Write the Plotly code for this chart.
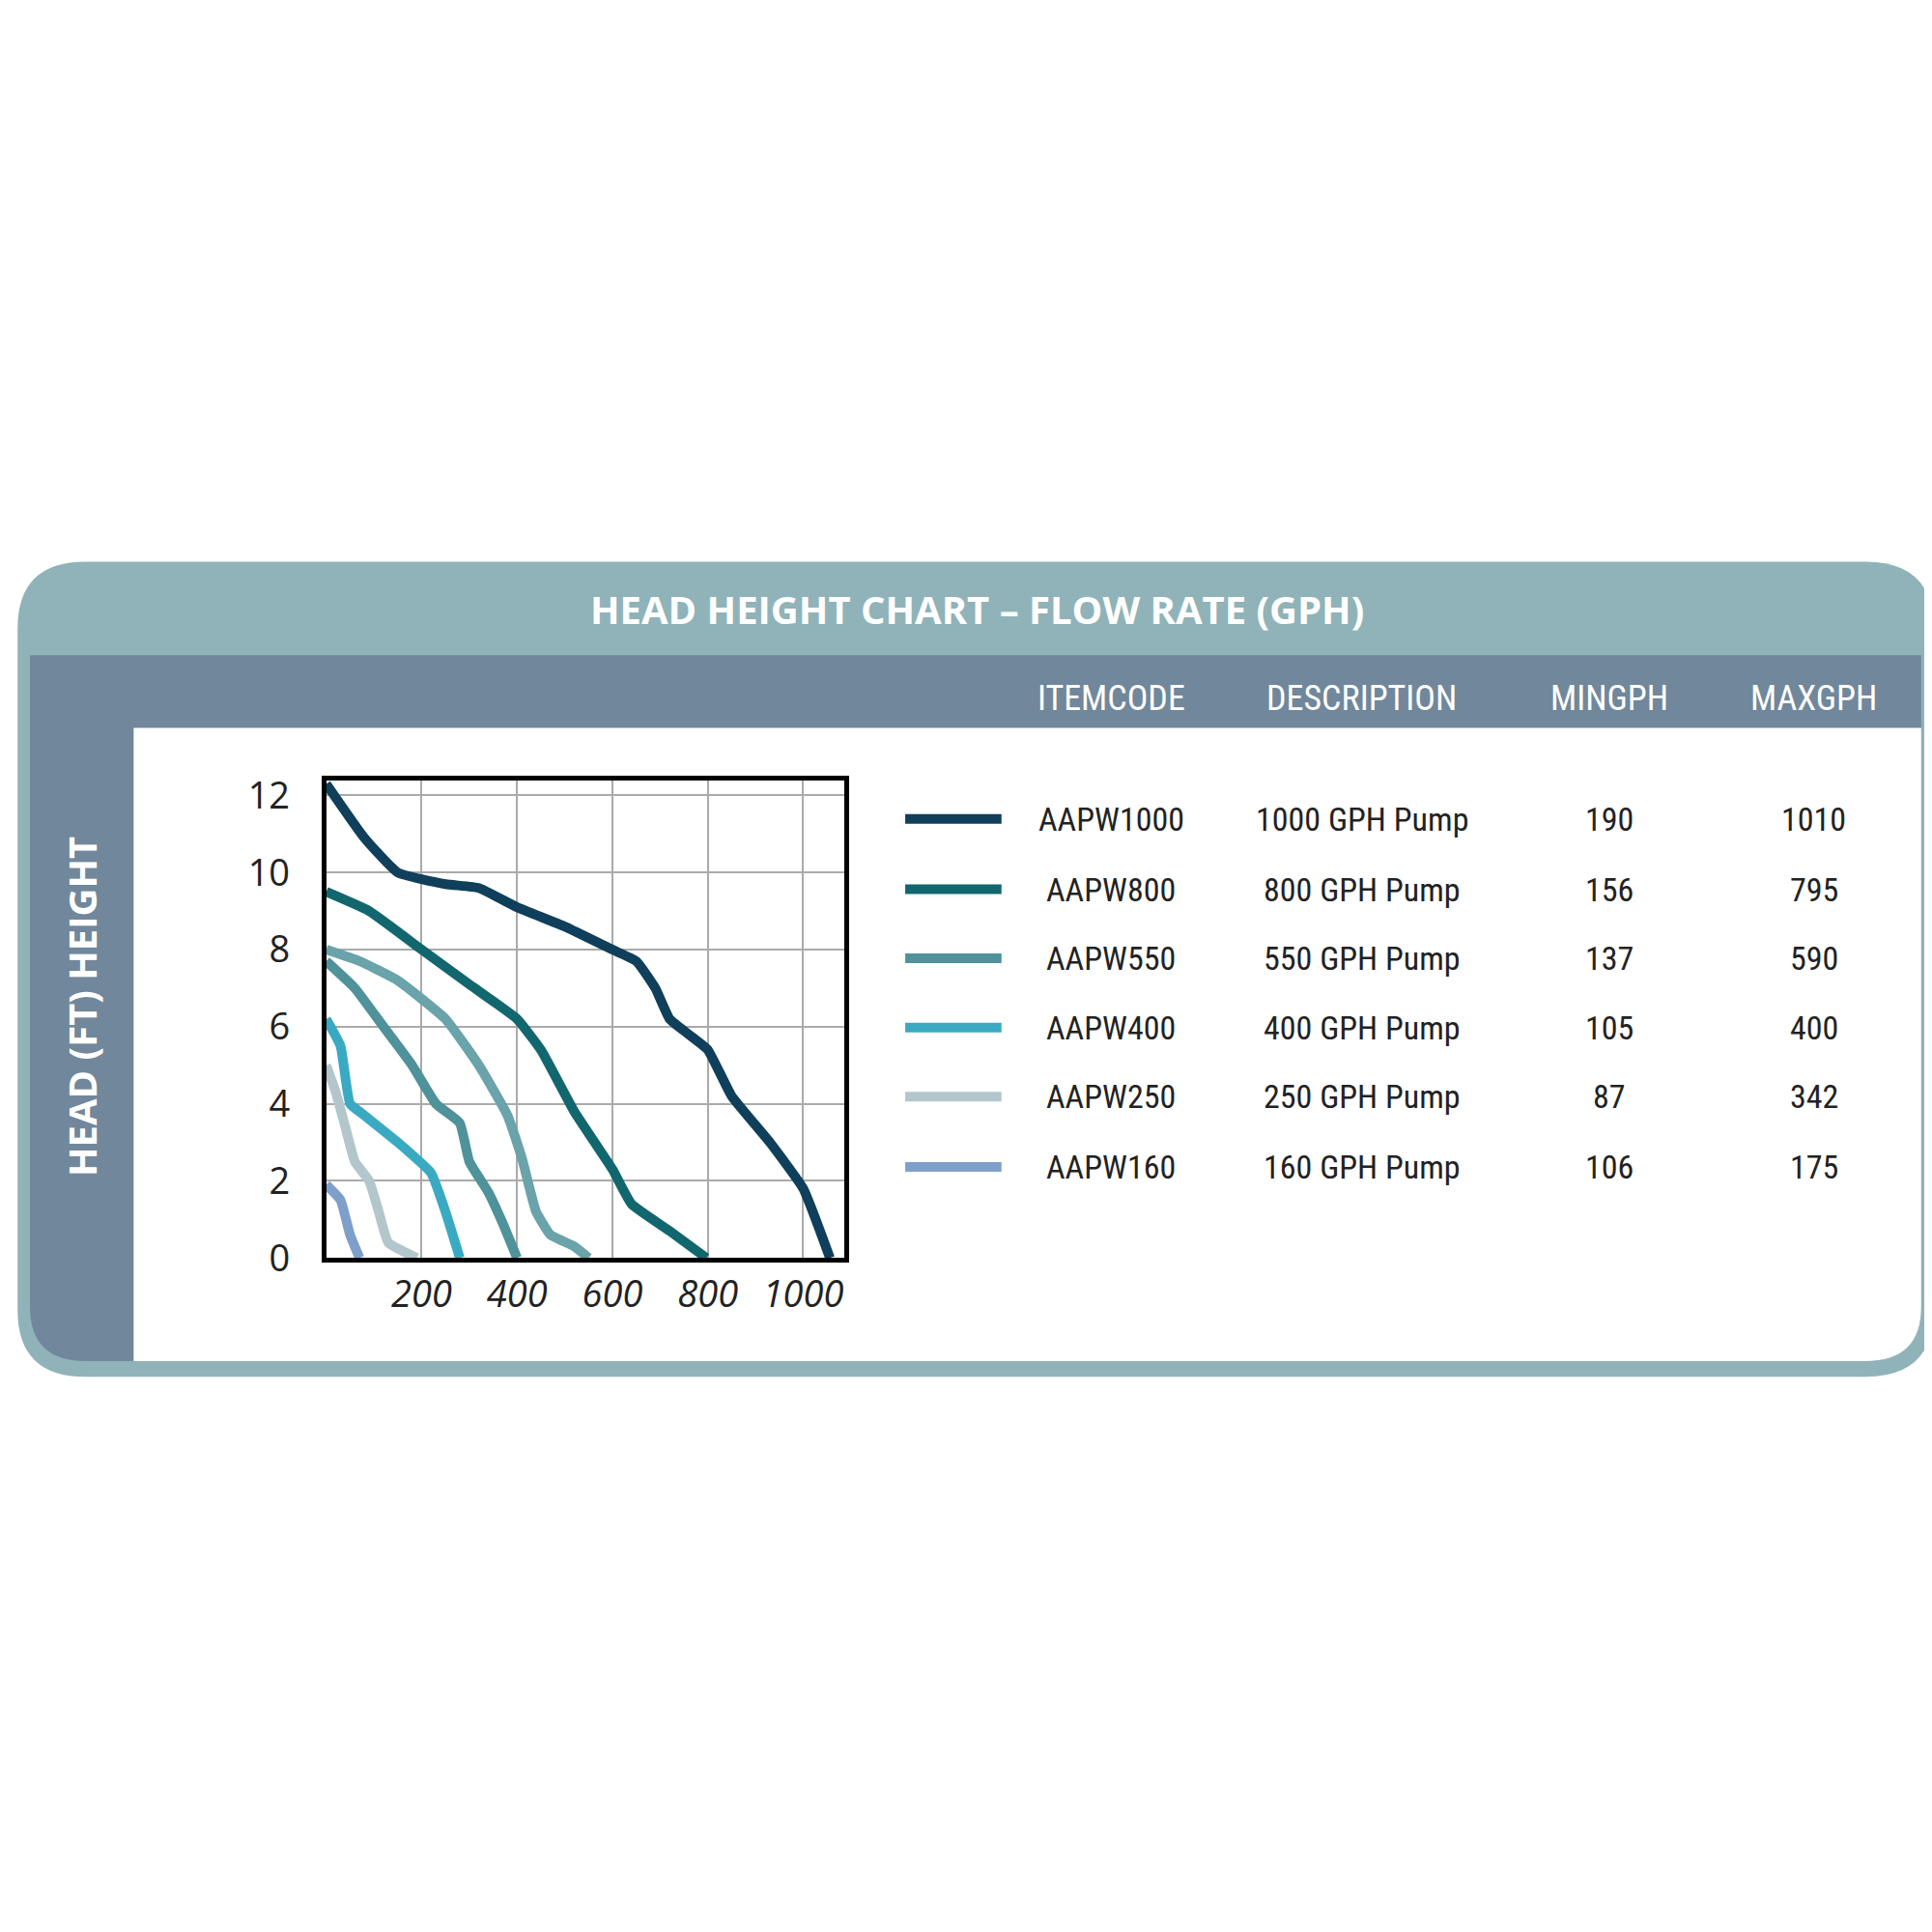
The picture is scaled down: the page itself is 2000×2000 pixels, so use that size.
import plotly.graph_objects as go

# pump curves: flow (GPH) vs head (ft)
flow_1000 = [0, 80, 150, 250, 320, 400, 500, 600, 650, 690, 720, 760, 800, 850, 930, 1000, 1056]
head_1000 = [12.3, 10.9, 10.0, 9.7, 9.6, 9.1, 8.6, 8.0, 7.7, 7.0, 6.2, 5.8, 5.4, 4.2, 3.0, 1.8, 0]
flow_800 = [0, 90, 200, 300, 400, 450, 520, 600, 640, 720, 797]
head_800 = [9.5, 9.0, 8.0, 7.1, 6.2, 5.4, 3.8, 2.3, 1.4, 0.7, 0]
flow_550 = [0, 70, 150, 250, 320, 380, 410, 440, 470, 520, 550]
head_550 = [8.0, 7.7, 7.2, 6.2, 5.0, 3.7, 2.6, 1.2, 0.6, 0.3, 0]
flow_mid = [0, 60, 120, 180, 230, 280, 300, 340, 370, 400]
head_mid = [7.7, 7.0, 6.0, 5.0, 4.0, 3.5, 2.5, 1.7, 0.9, 0]
flow_400 = [0, 30, 50, 80, 150, 220, 250, 280]
head_400 = [6.2, 5.5, 4.0, 3.7, 3.0, 2.2, 1.2, 0]
flow_250 = [0, 20, 40, 60, 90, 110, 130, 190]
head_250 = [5.0, 4.3, 3.4, 2.5, 2.0, 1.2, 0.4, 0]
flow_160 = [0, 30, 50, 70]
head_160 = [1.9, 1.5, 0.6, 0]

item_codes = ["AAPW1000", "AAPW800", "AAPW550", "AAPW400", "AAPW250", "AAPW160"]
descriptions = ["1000 GPH Pump", "800 GPH Pump", "550 GPH Pump", "400 GPH Pump", "250 GPH Pump", "160 GPH Pump"]
min_gph = ["190", "156", "137", "105", "87", "106"]
max_gph = ["1010", "795", "590", "400", "342", "175"]
colors = ["#0f3f5a", "#12676e", "#4f929a", "#3aaac2", "#b3c6cc", "#7f9fcb"]

S = 1565.0  # reference drawn in 1565 px units


def px_(x):
    return x / S


def py_(y):
    return 1 - y / S


def rpath(x0, y0, x1, y1, r_tl, r_tr, r_br, r_bl):
    X = lambda v: px_(v)
    Y = lambda v: py_(v)
    return (f"M {X(x0 + r_tl)} {Y(y0)} L {X(x1 - r_tr)} {Y(y0)} "
            f"Q {X(x1)} {Y(y0)} {X(x1)} {Y(y0 + r_tr)} "
            f"L {X(x1)} {Y(y1 - r_br)} Q {X(x1)} {Y(y1)} {X(x1 - r_br)} {Y(y1)} "
            f"L {X(x0 + r_bl)} {Y(y1)} Q {X(x0)} {Y(y1)} {X(x0)} {Y(y1 - r_bl)} "
            f"L {X(x0)} {Y(y0 + r_tl)} Q {X(x0)} {Y(y0)} {X(x0 + r_tl)} {Y(y0)} Z")


fig = go.Figure()

curves = [
    (flow_1000, head_1000, colors[0]),
    (flow_800, head_800, colors[1]),
    (flow_550, head_550, "#6aa3aa"),
    (flow_mid, head_mid, colors[2]),
    (flow_400, head_400, colors[3]),
    (flow_250, head_250, colors[4]),
    (flow_160, head_160, colors[5]),
]
for fx, hy, c in curves:
    fig.add_trace(go.Scatter(x=fx, y=hy, mode="lines", line=dict(color=c, width=10, shape="spline", smoothing=0.4),
                             showlegend=False, hoverinfo="skip"))

shapes = [
    dict(type="path", xref="paper", yref="paper", path=rpath(8, 448, 1560, 1120, 55, 55, 55, 55),
         fillcolor="#8fb3b8", line=dict(width=0), layer="below"),
    dict(type="path", xref="paper", yref="paper", path=rpath(18, 525, 1550, 1107, 0, 0, 45, 45),
         fillcolor="#71879b", line=dict(width=0), layer="below"),
    dict(type="path", xref="paper", yref="paper", path=rpath(102, 585, 1550, 1107, 0, 0, 45, 0),
         fillcolor="white", line=dict(width=0), layer="below"),
]
row_y = [660, 718, 775, 832, 889, 947]
for i in range(6):
    shapes.append(dict(type="line", xref="paper", yref="paper", x0=px_(727), x1=px_(805),
                       y0=py_(row_y[i]), y1=py_(row_y[i]), line=dict(color=colors[i], width=10)))


def label(text, x, y, size, color, family, angle=0):
    return dict(text=text, x=px_(x), y=py_(y), xref="paper", yref="paper", showarrow=False,
                xanchor="center", yanchor="middle", textangle=angle,
                font=dict(family=family, size=size, color=color))


ann = []
tfont = "Liberation Sans Narrow, Roboto Condensed, Liberation Sans"
ann.append(label("<b>HEAD HEIGHT CHART – FLOW RATE (GPH)</b>", 785, 487, 40, "white", "Open Sans"))
ann.append(label("<b>HEAD (FT) HEIGHT</b>", 60, 815, 40, "white", "Open Sans", -90))
col_x = [894, 1097, 1297, 1463]
headers = ["ITEMCODE", "DESCRIPTION", "MINGPH", "MAXGPH"]
for cx, h in zip(col_x, headers):
    ann.append(label(h, cx, 561, 36, "white", tfont))
for i in range(6):
    for cx, val in zip(col_x, [item_codes[i], descriptions[i], min_gph[i], max_gph[i]]):
        ann.append(label(val, cx, row_y[i], 34, "#222222", tfont))

fig.update_layout(
    width=2000, height=2000, margin=dict(l=0, r=0, t=0, b=0),
    paper_bgcolor="white", plot_bgcolor="white",
    shapes=shapes, annotations=ann,
)
fig.update_xaxes(domain=[px_(258), px_(678)], range=[0, 1087], tickvals=[200, 400, 600, 800, 1000],
                 ticktext=["<i>200</i>", "<i>400</i>", "<i>600</i>", "<i>800</i>", "<i>1000</i>"],
                 showgrid=True, gridcolor="#aaaaaa", gridwidth=2, zeroline=False,
                 showline=True, linecolor="black", linewidth=5, mirror=True, ticks="",
                 tickfont=dict(family="Open Sans", size=38, color="#222222"))
fig.update_yaxes(domain=[py_(1022), py_(628)], range=[0, 12.4], tickvals=[0, 2, 4, 6, 8, 10, 12],
                 showgrid=True, gridcolor="#aaaaaa", gridwidth=2, zeroline=False,
                 showline=True, linecolor="black", linewidth=5, mirror=True, ticks="outside",
                 ticklen=25, tickcolor="rgba(0,0,0,0)",
                 tickfont=dict(family="Open Sans", size=38, color="#222222"))

fig.write_html("out.html")
